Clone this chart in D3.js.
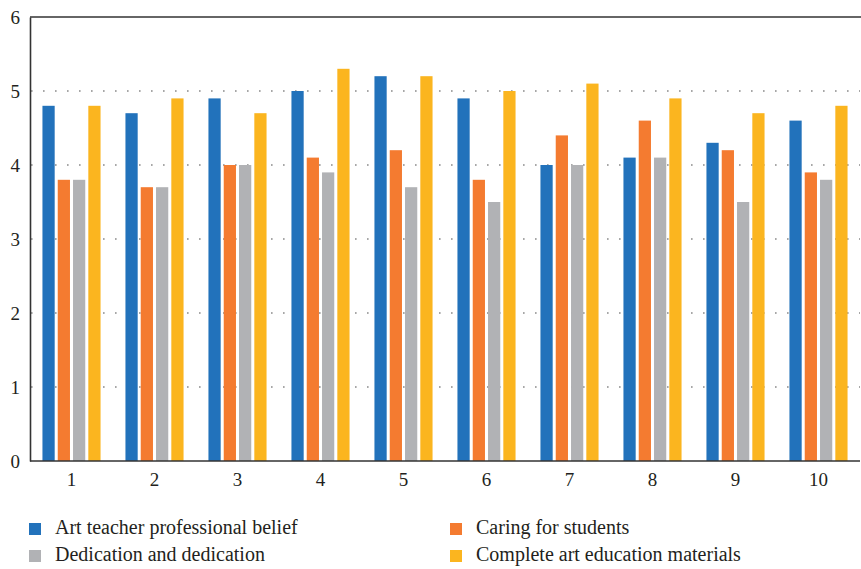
<!DOCTYPE html>
<html>
<head>
<meta charset="utf-8">
<script src="https://cdn.jsdelivr.net/npm/d3@7"></script>
<style>
  html, body { margin: 0; padding: 0; background: #fff; }
  svg { display: block; }
</style>
</head>
<body>
<svg id="chart" width="861" height="569"></svg>
<script>
// Survey scores per item (1–10) for four evaluation dimensions
const categories = ["1", "2", "3", "4", "5", "6", "7", "8", "9", "10"];
const seriesNames = [
  "Art teacher professional belief",
  "Caring for students",
  "Dedication and dedication",
  "Complete art education materials"
];
const beliefValues    = [4.8, 4.7, 4.9, 5.0, 5.2, 4.9, 4.0, 4.1, 4.3, 4.6];
const caringValues    = [3.8, 3.7, 4.0, 4.1, 4.2, 3.8, 4.4, 4.6, 4.2, 3.9];
const dedicationValues= [3.8, 3.7, 4.0, 3.9, 3.7, 3.5, 4.0, 4.1, 3.5, 3.8];
const materialsValues = [4.8, 4.9, 4.7, 5.3, 5.2, 5.0, 5.1, 4.9, 4.7, 4.8];
const yTicks = [0, 1, 2, 3, 4, 5, 6];

const colors = ["#2272bb", "#f47b30", "#b1b2b5", "#fbb51f"];
const seriesValues = [beliefValues, caringValues, dedicationValues, materialsValues];
const FONT = '"Liberation Serif", "Times New Roman", serif';
const INK = "#231f20";

const svg = d3.select("#chart");
const plotLeft = 30, plotRight = 860, plotTop = 17, plotBottom = 461;

const x0 = d3.scaleBand().domain(categories).range([plotLeft, plotRight])
  .paddingInner(0.3).paddingOuter(0.15);
const x1 = d3.scaleBand().domain(d3.range(seriesNames.length))
  .range([0, x0.bandwidth()]).paddingInner(0.2).paddingOuter(0);
const y = d3.scaleLinear().domain([0, 6]).range([plotBottom, plotTop]);

// dotted horizontal gridlines
svg.append("g")
  .selectAll("line")
  .data(yTicks.filter(t => t > 0 && t < 6))
  .join("line")
  .attr("x1", plotLeft + 1).attr("x2", plotRight)
  .attr("y1", d => y(d)).attr("y2", d => y(d))
  .attr("stroke", "#8a8a8a")
  .attr("stroke-width", 1.6)
  .attr("stroke-dasharray", "1.6,10.4");

// bars
const groups = svg.append("g")
  .selectAll("g")
  .data(categories)
  .join("g")
  .attr("transform", d => `translate(${x0(d)},0)`);

groups.selectAll("rect")
  .data((d, i) => seriesValues.map((vals, s) => ({ s, v: vals[i] })))
  .join("rect")
  .attr("x", d => x1(d.s))
  .attr("width", x1.bandwidth())
  .attr("y", d => y(d.v))
  .attr("height", d => y(0) - y(d.v))
  .attr("fill", d => colors[d.s]);

// frame: top rule, left and bottom axes
svg.append("line")
  .attr("x1", plotLeft).attr("x2", 861)
  .attr("y1", y(6)).attr("y2", y(6))
  .attr("stroke", "#666").attr("stroke-width", 2);

const yAxis = d3.axisLeft(y).tickValues(yTicks).tickSize(0).tickPadding(10)
  .tickFormat(d3.format("d"));
const yg = svg.append("g").attr("transform", `translate(${plotLeft},0)`).call(yAxis);
yg.select(".domain").attr("stroke", "#333").attr("stroke-width", 1.6);
yg.selectAll("text").style("font-family", FONT).attr("font-size", 19).attr("fill", INK);

const xAxis = d3.axisBottom(x0).tickSize(0).tickPadding(12);
const xg = svg.append("g").attr("transform", `translate(0,${plotBottom})`).call(xAxis);
xg.select(".domain").attr("stroke", "#333").attr("stroke-width", 1.6)
  .attr("d", `M${plotLeft},0H${plotRight}`);
xg.selectAll("text").style("font-family", FONT).attr("font-size", 19).attr("fill", INK);

// legend, two columns
const legendPos = [[29, 523], [450, 523], [29, 550], [450, 550]];
const legendOrder = [0, 1, 2, 3];
const legend = svg.append("g")
  .selectAll("g")
  .data(legendOrder)
  .join("g")
  .attr("transform", (d, i) => `translate(${legendPos[i][0]},${legendPos[i][1]})`);
legend.append("rect")
  .attr("width", 12).attr("height", 12)
  .attr("fill", d => colors[d]);
legend.append("text")
  .attr("x", 26).attr("y", 11)
  .style("font-family", FONT)
  .attr("font-size", 20)
  .attr("fill", INK)
  .text(d => seriesNames[d]);
</script>
</body>
</html>
